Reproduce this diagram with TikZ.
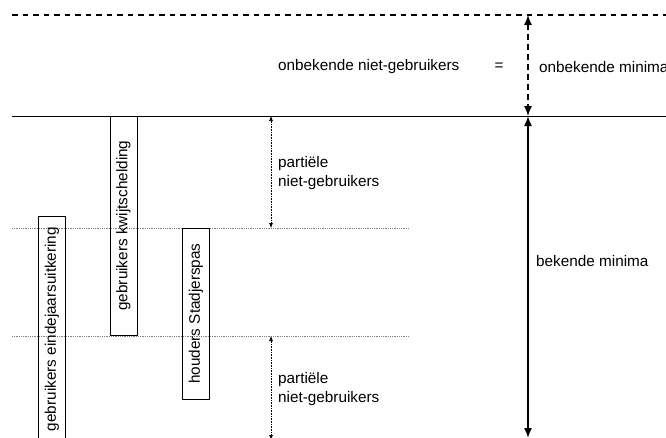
\documentclass[tikz,border=0pt]{standalone}
\usepackage{fontspec}
\setmainfont{Liberation Sans}
\usetikzlibrary{arrows.meta}
\begin{document}
\begin{tikzpicture}[x=1pt,y=-1pt]

    \tikzset{
      groep/.style={
        draw,
        line width=0.9pt,
        rotate=90,
        inner sep=0pt,
        minimum height=27pt,
        font=\fontsize{15.3}{18}\selectfont,
      },
      tekst/.style={
        anchor=west,
        inner sep=0pt,
        align=left,
        font=\fontsize{15.3}{18.5}\selectfont,
      },
      grens/.style={color={gray},line width=0.8pt,densely dotted},
      pijlklein/.style={line width=0.6pt,densely dotted,{Latex[length=5pt,width=4pt]}-{Latex[length=5pt,width=4pt]}},
      pijlgroot/.style={line width=1.6pt,{Latex[length=10pt,width=8pt]}-{Latex[length=10pt,width=8pt]}},
    }
    \useasboundingbox (0,0) rectangle (666,437);

	% lijnen
	\coordinate (bovenL) at (12,15);
	\coordinate (bovenR) at (666,15);
	\coordinate (basisL) at (12,116);
	\coordinate (basisR) at (666,116);
	\coordinate (grens1L) at (12,228);
	\coordinate (grens1R) at (409,228);
	\coordinate (grens2L) at (12,336);
	\coordinate (grens2R) at (409,336);
	\draw[line width=1.3pt,dash pattern=on 5.5pt off 5pt] (bovenL)--(bovenR);
	\draw[line width=1pt] (basisL)--(basisR);
	\draw[grens] (grens1L)--(grens1R);
	\draw[grens] (grens2L)--(grens2R);

	% groepen
	\node[groep,minimum width=219pt] (kwijt) at (123.5,225.5) {gebruikers kwijtschelding};
	\node[groep,minimum width=226pt] (eindejaar) at (52,329) {gebruikers eindejaarsuitkering};
	\node[groep,minimum width=171pt] (stadjerspas) at (196,313.5) {houders Stadjerspas};

	% pijlen
	\coordinate (onbBoven) at (528,15);
	\coordinate (onbOnder) at (528,116);
	\coordinate (bekOnder) at (528,438);
	\coordinate (part1Boven) at (271,116);
	\coordinate (part1Onder) at (271,228);
	\coordinate (part2Boven) at (271,336);
	\coordinate (part2Onder) at (271,440);
	\draw[line width=1.2pt,dash pattern=on 6pt off 4pt,{Latex[length=10pt,width=8pt]}-{Latex[length=10pt,width=8pt]}] (onbBoven)--(onbOnder);
	\draw[pijlgroot] (onbOnder)--(bekOnder);
	\draw[pijlklein] (part1Boven)--(part1Onder);
	\draw[pijlklein] (part2Boven)--(part2Onder);

	% teksten
	\node[tekst] (onbNiet) at (278,67) {onbekende niet-gebruikers};
	\node[anchor=center,font=\fontsize{15.3}{18}\selectfont] (gelijk) at (499,67) {=};
	\node[tekst] (onbMinima) at (539,67) {onbekende minima};
	\node[tekst] (bekMinima) at (536,261) {bekende minima};
	\node[tekst] (partieel1) at (278,173) {partiële\\niet-gebruikers};
	\node[tekst] (partieel2) at (278,389) {partiële\\niet-gebruikers};

\end{tikzpicture}
\end{document}
